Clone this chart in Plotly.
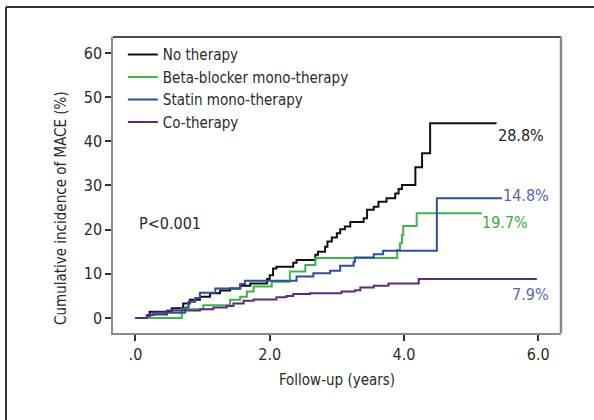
import plotly.graph_objects as go

# ---- data ----
names = ["No therapy", "Beta-blocker mono-therapy", "Statin mono-therapy", "Co-therapy"]

t_none = [0, 0.21, 0.54, 0.71, 0.81, 0.96, 1.11, 1.26, 1.41, 1.56, 1.71, 1.96, 2.00, 2.05, 2.10,
          2.35, 2.40, 2.68, 2.72, 2.825, 2.86, 2.925, 3.00, 3.05, 3.12, 3.20, 3.40, 3.45, 3.55,
          3.62, 3.74, 3.87, 3.92, 3.97, 4.17, 4.27, 4.39, 5.38]
v_none = [0, 1.4, 2.2, 3.3, 4.1, 4.8, 5.6, 6.2, 6.7, 7.3, 7.8, 8.8, 9.7, 11.2, 11.6,
          12.5, 13.1, 14.3, 15.0, 16.1, 17.3, 18.2, 19.2, 20.1, 20.7, 21.7, 22.6, 24.5, 25.2,
          26.3, 27.1, 28.2, 29.2, 30.1, 34.1, 37.3, 44.1, 44.1]

t_beta = [0, 0.69, 1.01, 1.41, 1.56, 1.66, 1.76, 2.03, 2.30, 2.53, 2.68, 3.90, 3.94, 3.97, 3.99, 4.19, 5.16]
v_beta = [0, 2.0, 2.9, 4.1, 4.8, 6.0, 7.1, 8.2, 10.5, 12.0, 13.6, 15.4, 16.9, 18.8, 20.8, 23.7, 23.7]

t_statin = [0, 0.17, 0.27, 0.74, 0.79, 0.89, 0.96, 1.19, 1.56, 1.63, 2.40, 2.65, 2.90, 3.05,
            3.25, 3.27, 3.55, 3.69, 4.49, 5.46]
v_statin = [0, 0.7, 1.2, 2.4, 3.7, 4.5, 5.7, 6.7, 7.7, 8.4, 9.4, 10.1, 10.7, 11.8,
            12.7, 13.7, 14.4, 15.2, 27.1, 27.1]

t_co = [0, 0.17, 0.22, 0.47, 0.96, 1.16, 1.36, 1.46, 1.61, 1.76, 2.10, 2.25, 2.35, 2.60,
        3.07, 3.27, 3.35, 3.55, 3.77, 4.22, 5.98]
v_co = [0, 0.45, 0.8, 1.7, 2.0, 2.4, 2.7, 3.3, 3.9, 4.2, 4.7, 5.0, 5.4, 5.6,
        6.0, 6.3, 6.9, 7.3, 7.8, 8.8, 8.8]

end_labels = ["28.8%", "19.7%", "14.8%", "7.9%"]
label_x = [5.75, 5.51, 5.82, 5.88]
label_y = [41.3, 21.6, 27.7, 5.4]
label_colors = ["#222222", "#3aab3e", "#5b62b8", "#5b62b8"]

x_tickvals = [0, 2, 4, 6]
x_ticktext = [".0", "2.0", "4.0", "6.0"]
y_tickvals = [0, 10, 20, 30, 40, 50, 60]

colors = ["#111111", "#3db54a", "#2c4f9e", "#5a2d7a"]
series = [(t_none, v_none), (t_beta, v_beta), (t_statin, v_statin), (t_co, v_co)]

FONT = "DejaVu Sans Condensed, Liberation Sans Narrow, Roboto, sans-serif"
TXT = "#2a2a2a"
FS = 15

fig = go.Figure()
for (t, v), n, c in zip(series, names, colors):
    fig.add_trace(go.Scatter(x=t, y=v, mode="lines", name=n,
                             line=dict(color=c, width=2, shape="hv")))

for txt, x, y, c in zip(end_labels, label_x, label_y, label_colors):
    fig.add_annotation(x=x, y=y, text=txt, showarrow=False, xref="x", yref="y",
                       font=dict(size=FS + 1, color=c, family=FONT))

fig.add_annotation(x=0.52, y=21.4, text="P<0.001", showarrow=False, xref="x", yref="y",
                   font=dict(size=FS + 1, color=TXT, family=FONT))

W, H = 594, 420
L, R, T, B = 113, 33, 37, 87
pw, ph = W - L - R, H - T - B

def px2paper_x(px):
    return (px - L) / pw

def py2paper_y(py):
    return (H - B - py) / ph

# y-axis title (placed slightly below centre as in reference)
fig.add_annotation(x=px2paper_x(61), y=py2paper_y(208), xref="paper", yref="paper",
                   xanchor="center", yanchor="middle",
                   text="Cumulative incidence of MACE (%)",
                   textangle=-90, showarrow=False, font=dict(size=FS, color=TXT, family=FONT))

# spines: top black, right grey
fig.add_shape(type="line", xref="paper", yref="paper", x0=0, x1=1, y0=1, y1=1,
              line=dict(color="#111111", width=1.5))
fig.add_shape(type="line", xref="paper", yref="paper", x0=1, x1=1, y0=0, y1=1,
              line=dict(color="#8a8a8a", width=2.5))
# outer frame (left + top)
fig.add_shape(type="line", xref="paper", yref="paper", x0=px2paper_x(6), x1=px2paper_x(6),
              y0=py2paper_y(420), y1=py2paper_y(7), line=dict(color="#333333", width=2))
fig.add_shape(type="line", xref="paper", yref="paper", x0=px2paper_x(6), x1=px2paper_x(594),
              y0=py2paper_y(7), y1=py2paper_y(7), line=dict(color="#333333", width=2))

fig.update_layout(
    width=W, height=H,
    margin=dict(l=L, r=R, t=T, b=B, pad=0),
    paper_bgcolor="white", plot_bgcolor="white",
    font=dict(family=FONT, size=FS, color=TXT),
    showlegend=True,
    legend=dict(x=0.022, y=0.996, xanchor="left", yanchor="top", bgcolor="rgba(0,0,0,0)",
                font=dict(size=FS, color=TXT, family=FONT), itemwidth=30,
                tracegroupgap=0),
    xaxis=dict(range=[-0.335, 6.34], tickvals=x_tickvals, ticktext=x_ticktext,
               ticks="outside", ticklen=6, tickcolor="#333", tickwidth=1.5,
               showline=True, linecolor="#8a8a8a", linewidth=1.5,
               showgrid=False, zeroline=False,
               title=dict(text="Follow-up (years)", font=dict(size=FS, color=TXT, family=FONT), standoff=12),
               tickfont=dict(size=FS + 1, color=TXT, family=FONT)),
    yaxis=dict(range=[-3.4, 63.6], tickvals=y_tickvals,
               ticks="outside", ticklen=6, tickcolor="#333", tickwidth=1.5,
               showline=True, linecolor="#8a8a8a", linewidth=1.5,
               showgrid=False, zeroline=False,
               tickfont=dict(size=FS + 1, color=TXT, family=FONT)),
)

fig.write_html("out.html")
